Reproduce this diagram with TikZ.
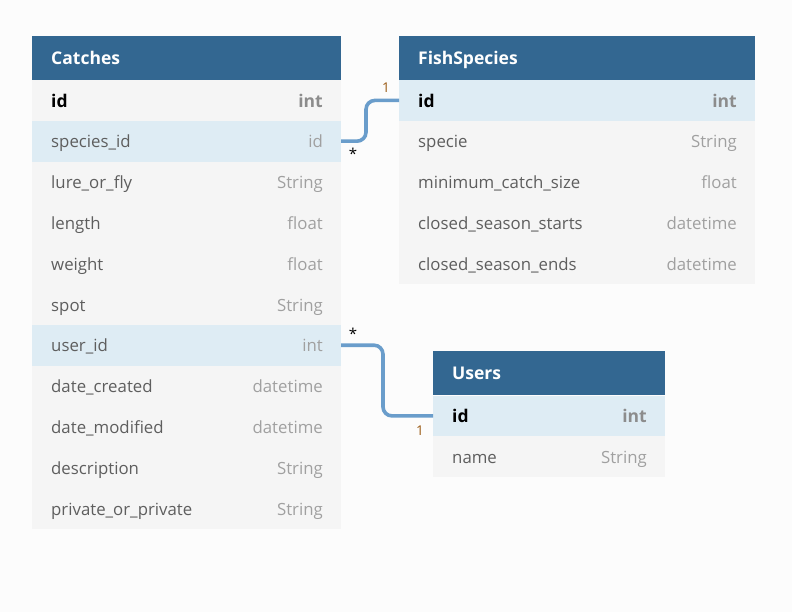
\documentclass[tikz,border=0pt]{standalone}
\usepackage{fontspec}
\setmainfont{Open Sans}
\usetikzlibrary{calc}
\definecolor{pagebg}{HTML}{FCFCFC}
\definecolor{headbg}{HTML}{336791}
\definecolor{rowbg}{HTML}{F5F5F5}
\definecolor{keybg}{HTML}{DEECF4}
\definecolor{fieldcol}{HTML}{5E5E5E}
\definecolor{typecol}{HTML}{A0A0A0}
\definecolor{keytype}{HTML}{8C8C8C}
\definecolor{conncol}{HTML}{6A9DCB}
\definecolor{onecol}{HTML}{9A5A14}
\tikzset{
  rowcell/.style={draw=none, anchor=north west, minimum height=40.8pt, inner sep=0pt, outer sep=0pt},
  headcell/.style={fill=headbg, draw=none, anchor=north west, minimum height=44pt, inner sep=0pt, outer sep=0pt},
  txtbox/.style={inner sep=0pt, text height=18pt, text depth=4.5pt},
  headtxt/.style={txtbox, text=white, font=\fontsize{17.5}{20}\selectfont\bfseries, anchor=west},
  fieldtxt/.style={txtbox, text=fieldcol, font=\fontsize{16.8}{20}\selectfont, anchor=west},
  typetxt/.style={txtbox, text=typecol, font=\fontsize{16.8}{20}\selectfont, anchor=east},
  keyfield/.style={txtbox, text=black, font=\fontsize{17.5}{20}\selectfont\bfseries, anchor=west},
  keytypetxt/.style={txtbox, text=keytype, font=\fontsize{17.5}{20}\selectfont\bfseries, anchor=east},
  conn/.style={draw=conncol, line width=3.6pt, rounded corners=9pt},
  cardmany/.style={text=black, font=\fontsize{15}{16}\selectfont, inner sep=0pt},
  cardone/.style={text=onecol, font=\fontsize{13.5}{16}\selectfont, inner sep=0pt}
}
% #1 name, #2 x, #3 y, #4 width, #5 fill, #6 field, #7 type
\newcommand{\erow}[7]{%
  \node[rowcell, fill=#5, minimum width=#4] (#1) at (#2,#3) {};
  \node[fieldtxt] (#1-n) at ([xshift=19pt]#1.west) {#6};
  \node[typetxt] (#1-t) at ([xshift=-18pt]#1.east) {#7};
}
\newcommand{\ekrow}[7]{%
  \node[rowcell, fill=#5, minimum width=#4] (#1) at (#2,#3) {};
  \node[keyfield] (#1-n) at ([xshift=19pt]#1.west) {#6};
  \node[keytypetxt] (#1-t) at ([xshift=-18pt]#1.east) {#7};
}
\newcommand{\ehead}[5]{%
  \node[headcell, minimum width=#4] (#1) at (#2,#3) {};
  \node[headtxt] (#1-n) at ([xshift=19pt]#1.west) {#5};
}
\begin{document}
\begin{tikzpicture}[x=1pt,y=-1pt]
\fill[pagebg] (0,0) rectangle (792,612);
\useasboundingbox (0,0) rectangle (792,612);
% Catches
\ehead{catches}{32}{36}{309pt}{Catches}
\ekrow{c-id}{32}{80}{309pt}{rowbg}{id}{int}
\erow{c-species}{32}{120.8}{309pt}{keybg}{species\_id}{id}
\erow{c-lure}{32}{161.6}{309pt}{rowbg}{lure\_or\_fly}{String}
\erow{c-length}{32}{202.4}{309pt}{rowbg}{length}{float}
\erow{c-weight}{32}{243.2}{309pt}{rowbg}{weight}{float}
\erow{c-spot}{32}{284}{309pt}{rowbg}{spot}{String}
\erow{c-user}{32}{324.8}{309pt}{keybg}{user\_id}{int}
\erow{c-created}{32}{365.6}{309pt}{rowbg}{date\_created}{datetime}
\erow{c-modified}{32}{406.4}{309pt}{rowbg}{date\_modified}{datetime}
\erow{c-desc}{32}{447.2}{309pt}{rowbg}{description}{String}
\erow{c-private}{32}{488}{309pt}{rowbg}{private\_or\_private}{String}
% FishSpecies
\ehead{fish}{399}{36}{356pt}{FishSpecies}
\ekrow{f-id}{399}{80}{356pt}{keybg}{id}{int}
\erow{f-specie}{399}{120.8}{356pt}{rowbg}{specie}{String}
\erow{f-min}{399}{161.6}{356pt}{rowbg}{minimum\_catch\_size}{float}
\erow{f-starts}{399}{202.4}{356pt}{rowbg}{closed\_season\_starts}{datetime}
\erow{f-ends}{399}{243.2}{356pt}{rowbg}{closed\_season\_ends}{datetime}
% Users
\ehead{users}{433}{351}{232pt}{Users}
\ekrow{u-id}{433}{395.5}{232pt}{keybg}{id}{int}
\erow{u-name}{433}{436.3}{232pt}{rowbg}{name}{String}
% connectors
\draw[conn] (c-species.east) -- ++(25,0) |- (f-id.west);
\draw[conn] (c-user.east) -- ++(42,0) |- (u-id.west);
\node[cardmany] (m1) at (353,154) {*};
\node[cardone] (o1) at (386,88) {1};
\node[cardmany] (m2) at (353,334) {*};
\node[cardone] (o2) at (420,431) {1};
\end{tikzpicture}
\end{document}
